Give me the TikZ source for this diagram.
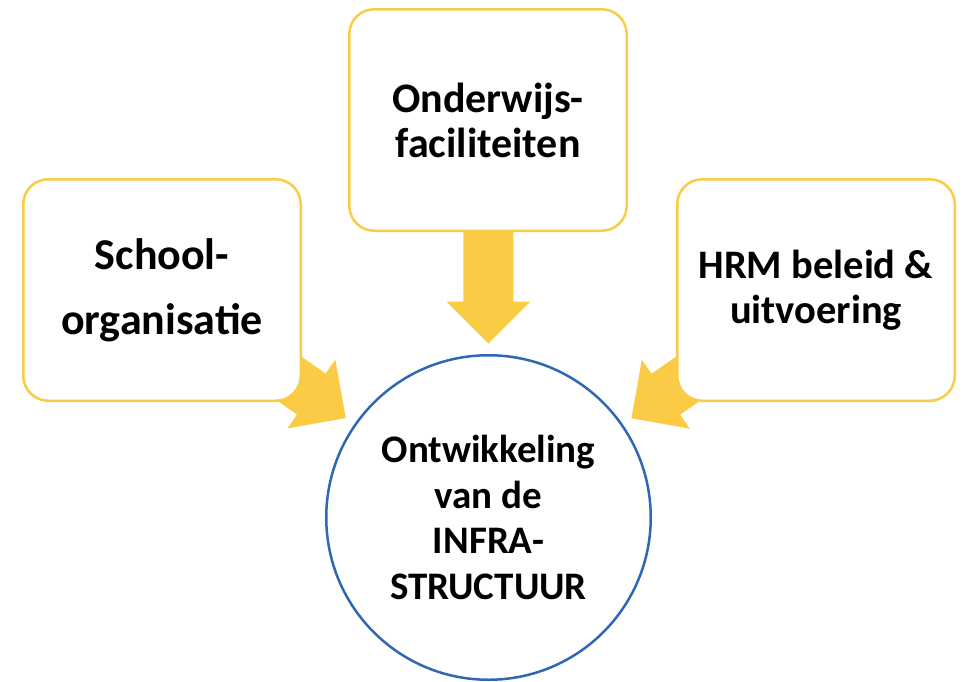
\documentclass[tikz,border=0pt]{standalone}
\usepackage{fontspec}
\setmainfont{Carlito}
\usetikzlibrary{calc}
\definecolor{gold}{RGB}{252,203,70}
\definecolor{ringblue}{RGB}{46,104,180}
\tikzset{
  x=1pt, y=1pt,
  box/.style={draw=gold, line width=2.5pt, fill=white, rounded corners=25pt,
    minimum width=277.5pt, minimum height=221.5pt, align=center, inner sep=0pt},
  ring/.style={circle, draw=ringblue, line width=2.5pt, fill=white,
    minimum size=324.5pt, align=center, inner sep=0pt,
    font=\fontsize{39}{45.7}\selectfont\bfseries},
  blockarrow/.style={fill=gold, draw=none}
}
\begin{document}
\begin{tikzpicture}
\useasboundingbox (0,0) rectangle (966,-681);
% node positions (used for arrows)
\coordinate (Lc) at (162,-290);
\coordinate (Tc) at (488,-120);
\coordinate (Rc) at (816,-290);
\coordinate (Cc) at (488.5,-517.5);
% tips of the block arrows
\coordinate (tipL) at ($(Cc)!174pt!(Lc)$);
\coordinate (tipT) at ($(Cc)!174pt!(Tc)$);
\coordinate (tipR) at ($(Cc)!174pt!(Rc)$);
% block arrows (behind the boxes)
\fill[blockarrow, shift={(tipL)}, rotate=-34.9]
  (0,0) -- (-42,42) -- (-42,25) -- (-230,25) -- (-230,-25) -- (-42,-25) -- (-42,-42) -- cycle;
\fill[blockarrow, shift={(tipT)}, rotate=-90]
  (0,0) -- (-42,42) -- (-42,25) -- (-230,25) -- (-230,-25) -- (-42,-25) -- (-42,-42) -- cycle;
\fill[blockarrow, shift={(tipR)}, rotate=-145.1]
  (0,0) -- (-42,42) -- (-42,25) -- (-230,25) -- (-230,-25) -- (-42,-25) -- (-42,-42) -- cycle;
% boxes
\node[box, font=\fontsize{44}{65}\selectfont\bfseries] (L) at (Lc) {School-\\organisatie};
\node[box, font=\fontsize{42}{45}\selectfont\bfseries] (T) at (Tc) {Onderwijs-\\faciliteiten};
\node[box, font=\fontsize{40.5}{45}\selectfont\bfseries] (R) at (Rc) {HRM beleid \&\\uitvoering};
% circle
\node[ring] (C) at (Cc) {Ontwikkeling\\van de\\INFRA-\\STRUCTUUR};
\end{tikzpicture}
\end{document}
